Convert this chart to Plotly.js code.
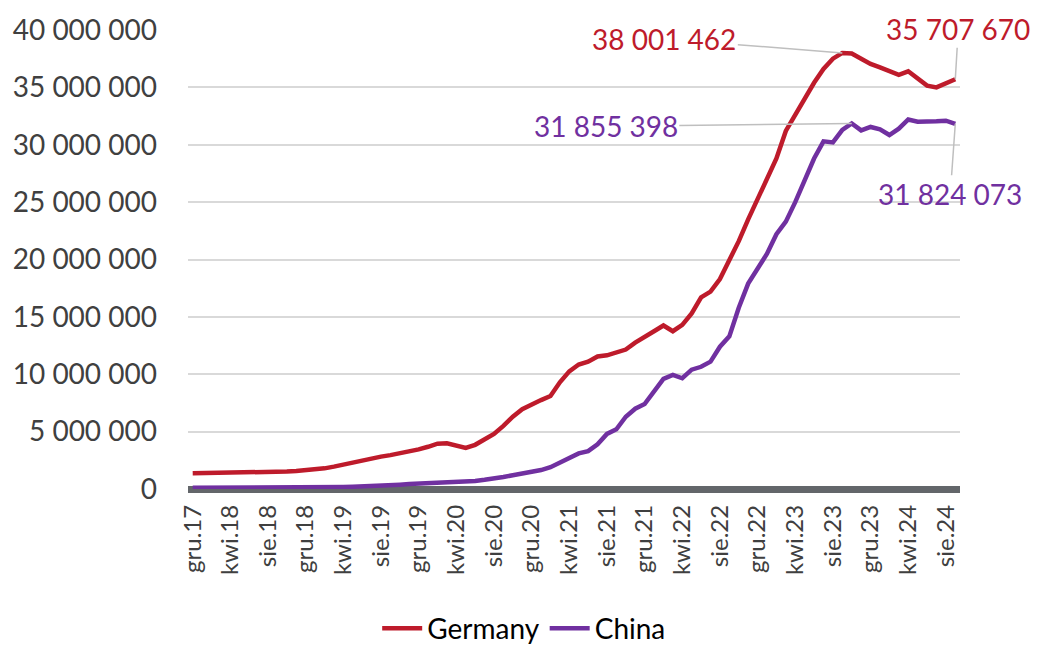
<!DOCTYPE html>
<html>
<head>
<meta charset="utf-8">
<script src="https://cdn.plot.ly/plotly-3.0.1.min.js"></script>
<style>
html,body{margin:0;padding:0;background:#fff;}
#chart{width:1038px;height:648px;}
</style>
</head>
<body>
<div id="chart"></div>
<script>
const months = [
  "gru.17",
  "sty.18","lut.18","mar.18","kwi.18","maj.18","cze.18","lip.18","sie.18","wrz.18","paź.18","lis.18","gru.18",
  "sty.19","lut.19","mar.19","kwi.19","maj.19","cze.19","lip.19","sie.19","wrz.19","paź.19","lis.19","gru.19",
  "sty.20","lut.20","mar.20","kwi.20","maj.20","cze.20","lip.20","sie.20","wrz.20","paź.20","lis.20","gru.20",
  "sty.21","lut.21","mar.21","kwi.21","maj.21","cze.21","lip.21","sie.21","wrz.21","paź.21","lis.21","gru.21",
  "sty.22","lut.22","mar.22","kwi.22","maj.22","cze.22","lip.22","sie.22","wrz.22","paź.22","lis.22","gru.22",
  "sty.23","lut.23","mar.23","kwi.23","maj.23","cze.23","lip.23","sie.23","wrz.23","paź.23","lis.23","gru.23",
  "sty.24","lut.24","mar.24","kwi.24","maj.24","cze.24","lip.24","sie.24","wrz.24"
];

const tickLabels = ["gru.17","kwi.18","sie.18","gru.18","kwi.19","sie.19","gru.19","kwi.20","sie.20","gru.20",
  "kwi.21","sie.21","gru.21","kwi.22","sie.22","gru.22","kwi.23","sie.23","gru.23","kwi.24","sie.24"];

const germany = [
  1370000,1380000,1390000,1380000,1380000,1380000,1400000,1420000,1430000,1460000,1520000,1560000,
  1620000,1700000,1800000,1950000,2120000,2350000,2550000,2700000,2820000,2950000,3100000,3250000,
  3450000,3680000,3950000,3980000,3750000,3580000,3850000,4300000,4800000,5500000,6300000,6950000,
  7400000,7750000,8100000,9300000,10250000,10850000,11100000,11550000,11650000,11850000,12150000,12750000,
  13300000,13750000,14250000,13750000,14300000,15300000,16700000,17200000,18300000,19900000,21600000,23500000,
  25300000,27000000,28800000,31200000,32600000,34000000,35400000,36600000,37500000,38001462,37950000,37500000,
  37050000,36750000,36450000,36100000,36400000,35800000,35150000,35000000,35400000,35707670
];

const china = [
  100000,100000,100000,100000,100000,100000,110000,110000,120000,120000,130000,130000,
  140000,150000,160000,170000,180000,200000,220000,250000,280000,320000,380000,430000,
  460000,480000,500000,520000,550000,600000,700000,800000,880000,1050000,1200000,1350000,
  1450000,1650000,1900000,2300000,2800000,3100000,3300000,3900000,4800000,5200000,6300000,7000000,
  7400000,8500000,9600000,9950000,9650000,10400000,10650000,11100000,12400000,13300000,15800000,17900000,
  19200000,20500000,22200000,23300000,25000000,27000000,28800000,30300000,30200000,31300000,31855398,31250000,
  31550000,31350000,30850000,31400000,32200000,32000000,32000000,32050000,32100000,31824073
];

const seriesNames = ["Germany","China"];
const labelledMonths = ["wrz.23", "wrz.24", "paź.23", "wrz.24"]; // Germany peak, Germany last, China label, China last
const yTicks = [0,5000000,10000000,15000000,20000000,25000000,30000000,35000000,40000000];
const yTickText = ["0","5 000 000","10 000 000","15 000 000","20 000 000","25 000 000","30 000 000","35 000 000","40 000 000"];

const RED = "#BE1B2B";
const PURPLE = "#7030A0";
const FONT = "Lato, 'Open Sans', sans-serif";

function fmt(v){ return String(v).replace(/\B(?=(\d{3})+(?!\d))/g, " "); }

const traces = [
  {x: months, y: germany, type: "scatter", mode: "lines", name: seriesNames[0],
   line: {color: RED, width: 4.5}, hoverinfo: "skip"},
  {x: months, y: china, type: "scatter", mode: "lines", name: seriesNames[1],
   line: {color: PURPLE, width: 4.5}, hoverinfo: "skip"}
];

function ann(series, m, color, ax, ay){
  const y = series[months.indexOf(m)];
  return {x: m, y: y, xref: "x", yref: "y", text: fmt(y),
    showarrow: true, arrowhead: 0, arrowwidth: 1.5, arrowcolor: "#BFBFBF",
    ax: ax, ay: ay, standoff: 0,
    font: {family: FONT, size: 28, color: color}};
}

const layout = {
  width: 1038, height: 648,
  margin: {l: 188, r: 78, t: 30, b: 159},
  paper_bgcolor: "#ffffff", plot_bgcolor: "#ffffff",
  font: {family: FONT, color: "#404040"},
  showlegend: true,
  legend: {orientation: "h", xref: "container", yref: "container", x: 0.505, xanchor: "center",
    y: 0.03, yanchor: "middle", font: {family: FONT, size: 28, color: "#000000"},
    itemwidth: 40, tracegroupgap: 0},
  xaxis: {
    type: "category", range: [-0.5, months.length - 0.5],
    tickmode: "array", tickvals: tickLabels, ticktext: tickLabels,
    tickangle: -90, tickfont: {family: FONT, size: 24, color: "#404040"},
    ticklabelstandoff: 10,
    showgrid: false, zeroline: false, showline: false, ticks: "", fixedrange: true
  },
  yaxis: {
    range: [0, 40000000], tickmode: "array", tickvals: yTicks, ticktext: yTickText,
    tickfont: {family: FONT, size: 28, color: "#404040"},
    showgrid: true, gridcolor: "#D9D9D9", gridwidth: 2,
    zeroline: true, zerolinecolor: "#63666A", zerolinewidth: 7,
    showline: false, ticks: "", ticklabelstandoff: 30, fixedrange: true
  },
  annotations: [
    ann(germany, labelledMonths[0], RED, -178, -14),
    ann(germany, labelledMonths[1], RED, 3, -50),
    ann(china, labelledMonths[2], PURPLE, -246, 3),
    ann(china, labelledMonths[3], PURPLE, -5, 70)
  ]
};

Plotly.newPlot("chart", traces, layout, {displayModeBar: false, staticPlot: true});
</script>
</body>
</html>
